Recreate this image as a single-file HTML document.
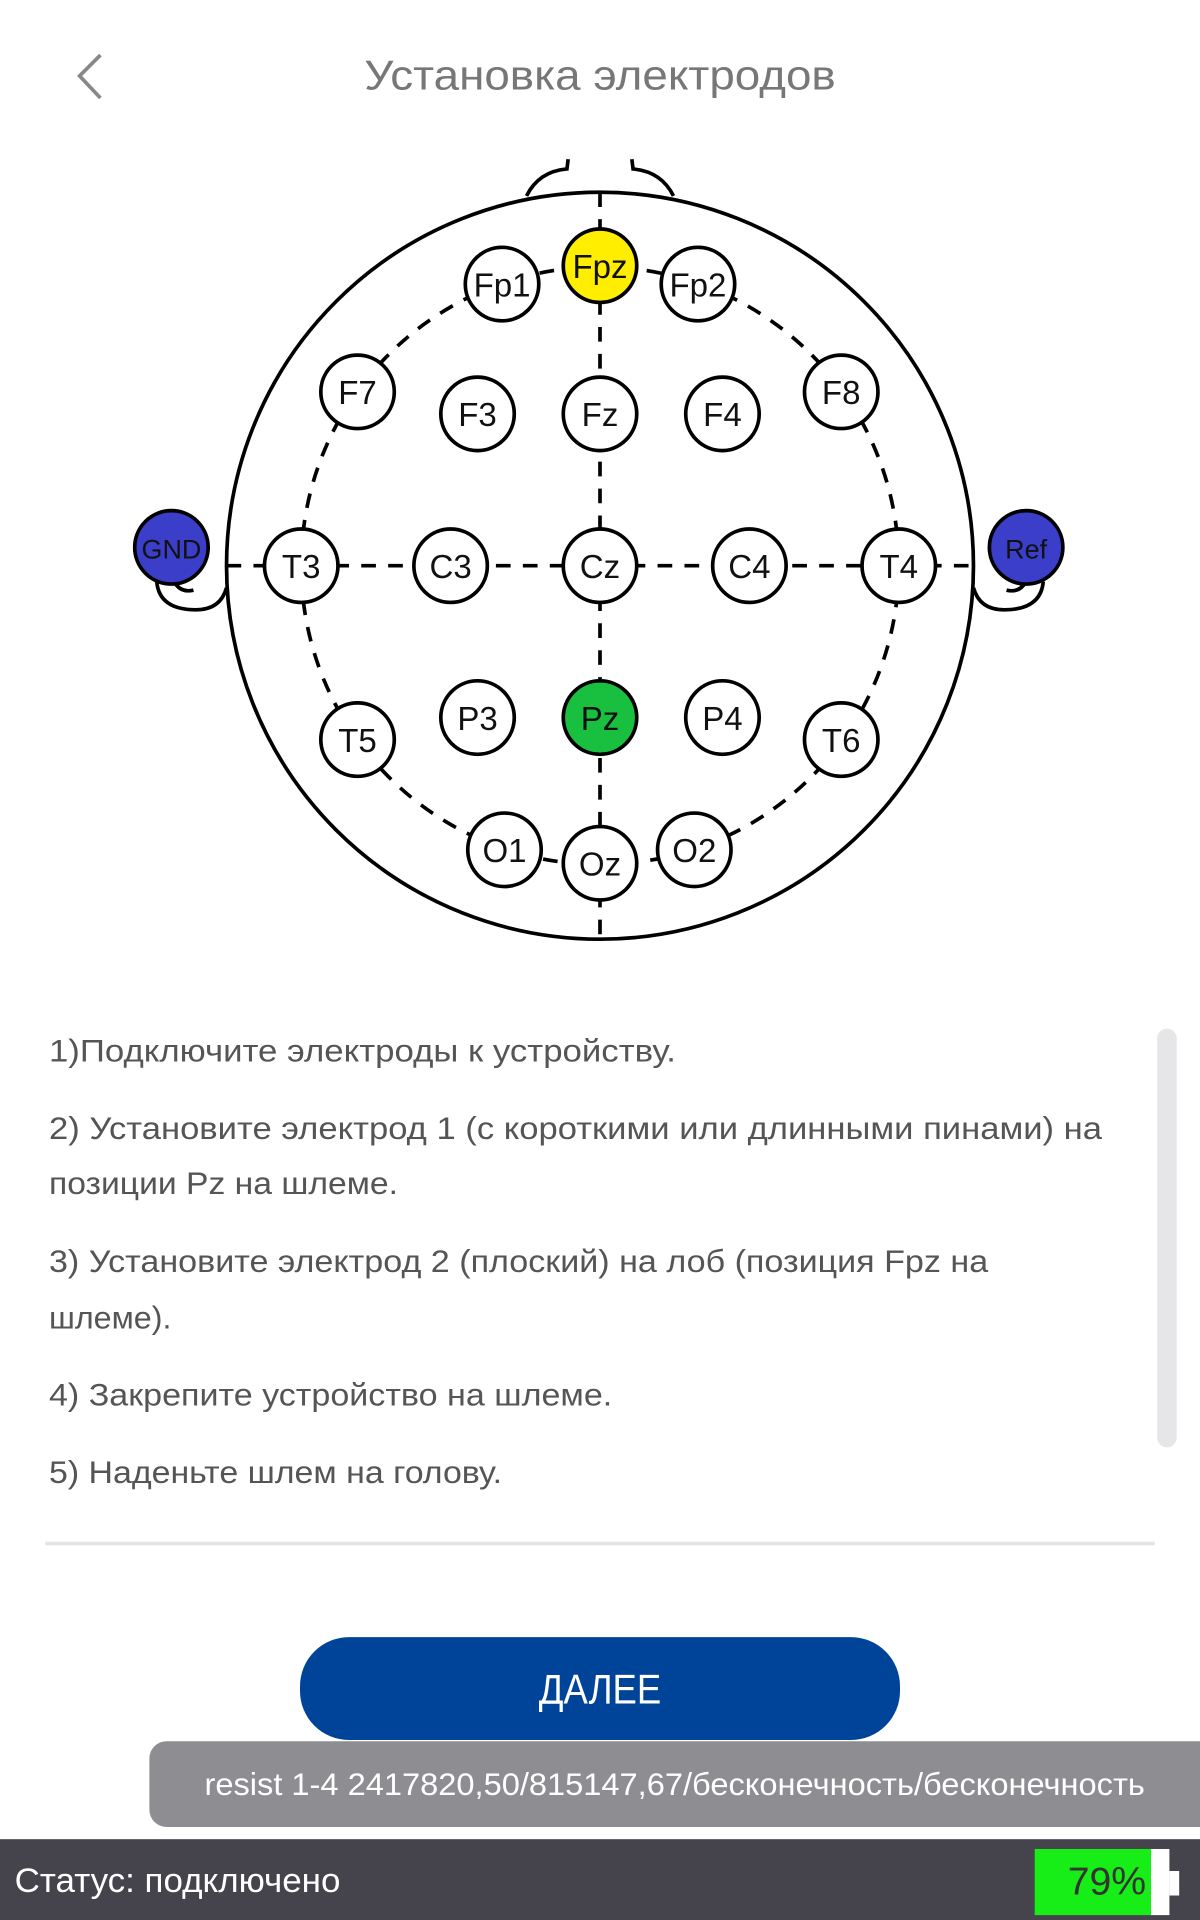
<!DOCTYPE html>
<html><head><meta charset="utf-8"><style>
html,body{margin:0;padding:0;background:#fff;width:1200px;height:1920px;overflow:hidden}
svg{display:block}
text{font-family:"Liberation Sans",sans-serif}
</style></head><body>
<svg width="1200" height="1920" viewBox="0 0 980 1568" xmlns="http://www.w3.org/2000/svg">
<rect width="980" height="1568" fill="#fff"/>
<polyline points="82,45 65,62 82,80" fill="none" stroke="#888" stroke-width="3"/>
<text x="490" y="73" font-size="34" fill="#777" text-anchor="middle" textLength="385" lengthAdjust="spacingAndGlyphs">Установка электродов</text>

<g stroke="#000" fill="none">
<path d="M464,130 L463,138 Q440,140 430,160 M516,130 L517,138 Q540,140 550,160" stroke-width="3"/>
<circle cx="490" cy="462" r="305" stroke-width="3" fill="none"/>
<path d="M185,480 Q180,498 160,498 Q130,498 128,475 M795,480 Q800,498 820,498 Q850,498 852,475" stroke-width="3"/>
<path d="M140,470 Q145,485 158,482 M840,470 Q835,485 822,482" stroke-width="3"/>
<g stroke-width="3" stroke-dasharray="12,10">
<line x1="490" y1="157" x2="490" y2="767"/>
<line x1="185" y1="462" x2="795" y2="462"/>
<circle cx="490" cy="462" r="244"/>
</g>
</g>
<g stroke="#000" stroke-width="3" font-size="26" text-anchor="middle">
<g fill="#fff">
<circle cx="410" cy="232" r="30"/><circle cx="570" cy="232" r="30"/>
<circle cx="292" cy="320" r="30"/><circle cx="390" cy="338" r="30"/><circle cx="490" cy="338" r="30"/><circle cx="590" cy="338" r="30"/><circle cx="687" cy="320" r="30"/>
<circle cx="246" cy="462" r="30"/><circle cx="368" cy="462" r="30"/><circle cx="490" cy="462" r="30"/><circle cx="612" cy="462" r="30"/><circle cx="734" cy="462" r="30"/>
<circle cx="292" cy="604" r="30"/><circle cx="390" cy="586" r="30"/><circle cx="590" cy="586" r="30"/><circle cx="687" cy="604" r="30"/>
<circle cx="412" cy="694" r="30"/><circle cx="490" cy="705" r="30"/><circle cx="567" cy="694" r="30"/>
</g>
<circle cx="490" cy="217" r="30" fill="#ffee00"/>
<circle cx="490" cy="586" r="30" fill="#19c040"/>
<circle cx="140" cy="447" r="30" fill="#3a3ec8"/>
<circle cx="838" cy="447" r="30" fill="#3a3ec8"/>
</g>
<g font-size="27" text-anchor="middle" fill="#111">
<text x="410" y="242">Fp1</text><text x="490" y="227">Fpz</text><text x="570" y="242">Fp2</text>
<text x="292" y="330">F7</text><text x="390" y="348">F3</text><text x="490" y="348">Fz</text><text x="590" y="348">F4</text><text x="687" y="330">F8</text>
<text x="246" y="472">T3</text><text x="368" y="472">C3</text><text x="490" y="472">Cz</text><text x="612" y="472">C4</text><text x="734" y="472">T4</text>
<text x="292" y="614">T5</text><text x="390" y="596">P3</text><text x="490" y="596">Pz</text><text x="590" y="596">P4</text><text x="687" y="614">T6</text>
<text x="412" y="704">O1</text><text x="490" y="715">Oz</text><text x="567" y="704">O2</text>
<text x="140" y="456" font-size="22" fill="#111">GND</text><text x="838" y="456" font-size="22" fill="#111">Ref</text>
</g>

<g font-size="26" fill="#555">
<text x="40" y="867" textLength="512" lengthAdjust="spacingAndGlyphs">1)Подключите электроды к устройству.</text>
<text x="40" y="930" textLength="860" lengthAdjust="spacingAndGlyphs">2) Установите электрод 1 (с короткими или длинными пинами) на</text>
<text x="40" y="975" textLength="285" lengthAdjust="spacingAndGlyphs">позиции Pz на шлеме.</text>
<text x="40" y="1039" textLength="767" lengthAdjust="spacingAndGlyphs">3) Установите электрод 2 (плоский) на лоб (позиция Fpz на</text>
<text x="40" y="1085" textLength="100" lengthAdjust="spacingAndGlyphs">шлеме).</text>
<text x="40" y="1148" textLength="460" lengthAdjust="spacingAndGlyphs">4) Закрепите устройство на шлеме.</text>
<text x="40" y="1211" textLength="370" lengthAdjust="spacingAndGlyphs">5) Наденьте шлем на голову.</text>
</g>
<rect x="945" y="840" width="16" height="342" rx="8" fill="#e6e6e9"/>
<rect x="37" y="1259" width="906" height="3" fill="#e4e4e6"/>

<rect x="245" y="1337" width="490" height="84" rx="40" fill="#00449a"/>
<text x="490" y="1391" font-size="34" fill="#fff" text-anchor="middle" textLength="100" lengthAdjust="spacingAndGlyphs">ДАЛЕЕ</text>
<rect x="122" y="1422" width="880" height="70" rx="14" fill="#8e8d92"/>
<text x="167" y="1466" font-size="26" fill="#fff" textLength="768" lengthAdjust="spacingAndGlyphs">resist 1-4  2417820,50/815147,67/бесконечность/бесконечность</text>

<rect x="0" y="1502" width="980" height="66" fill="#45444c"/>
<text x="12" y="1545" font-size="28" fill="#fff" textLength="266" lengthAdjust="spacingAndGlyphs">Статус: подключено</text>
<rect x="845" y="1510" width="95" height="54" fill="#17ee17"/>
<rect x="940" y="1510" width="15" height="54" fill="#fff"/>
<rect x="955" y="1528" width="8" height="20" fill="#fff"/>
<text x="936" y="1547" font-size="32" fill="#333" text-anchor="end">79%</text>
</svg>
</body></html>
